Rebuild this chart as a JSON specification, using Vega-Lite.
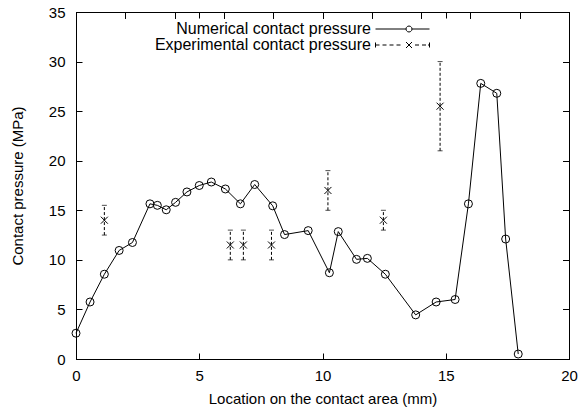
{
  "$schema": "https://vega.github.io/schema/vega-lite/v6.json",
  "width": 493,
  "height": 347,
  "autosize": {"type": "none"},
  "padding": {"left": 76, "top": 12, "right": 10, "bottom": 55},
  "background": "white",
  "config": {
    "aria": false,
    "font": "Liberation Sans",
    "view": {"stroke": "black", "strokeWidth": 1},
    "axis": {
      "grid": false,
      "domainColor": "black",
      "domainWidth": 1,
      "tickColor": "black",
      "tickWidth": 1,
      "tickSize": -6,
      "labelColor": "black",
      "titleColor": "black",
      "labelFont": "Liberation Sans",
      "titleFont": "Liberation Sans",
      "labelFontSize": 15,
      "titleFontSize": 15,
      "titleFontWeight": "normal",
      "labelFlush": false,
      "labelOverlap": false,
      "labelPadding": 17
    },
    "legend": {
      "orient": "none",
      "legendX": 318.5,
      "legendY": 9,
      "labelAlign": "right",
      "labelOffset": -39.5,
      "labelFont": "Liberation Sans",
      "labelFontSize": 16,
      "labelColor": "black",
      "labelLimit": 400,
      "symbolSize": 100,
      "symbolStrokeWidth": 1,
      "symbolStrokeColor": "black",
      "symbolFillColor": "transparent",
      "rowPadding": -2,
      "padding": 0
    }
  },
  "data": {
    "values": [
      {"series": "Numerical contact pressure", "x": 0, "p": 2.6},
      {"series": "Numerical contact pressure", "x": 0.57, "p": 5.75},
      {"series": "Numerical contact pressure", "x": 1.15, "p": 8.55},
      {"series": "Numerical contact pressure", "x": 1.75, "p": 10.95},
      {"series": "Numerical contact pressure", "x": 2.29, "p": 11.75},
      {"series": "Numerical contact pressure", "x": 3.0, "p": 15.65},
      {"series": "Numerical contact pressure", "x": 3.3, "p": 15.5},
      {"series": "Numerical contact pressure", "x": 3.66, "p": 15.05},
      {"series": "Numerical contact pressure", "x": 4.04, "p": 15.8},
      {"series": "Numerical contact pressure", "x": 4.5, "p": 16.85},
      {"series": "Numerical contact pressure", "x": 5.0, "p": 17.5},
      {"series": "Numerical contact pressure", "x": 5.49, "p": 17.85},
      {"series": "Numerical contact pressure", "x": 6.06, "p": 17.15},
      {"series": "Numerical contact pressure", "x": 6.67, "p": 15.65},
      {"series": "Numerical contact pressure", "x": 7.25, "p": 17.6},
      {"series": "Numerical contact pressure", "x": 7.98, "p": 15.45},
      {"series": "Numerical contact pressure", "x": 8.46, "p": 12.55},
      {"series": "Numerical contact pressure", "x": 9.42, "p": 12.95},
      {"series": "Numerical contact pressure", "x": 10.28, "p": 8.7},
      {"series": "Numerical contact pressure", "x": 10.64, "p": 12.85},
      {"series": "Numerical contact pressure", "x": 11.38, "p": 10.05},
      {"series": "Numerical contact pressure", "x": 11.82, "p": 10.15},
      {"series": "Numerical contact pressure", "x": 12.55, "p": 8.55},
      {"series": "Numerical contact pressure", "x": 13.78, "p": 4.45},
      {"series": "Numerical contact pressure", "x": 14.61, "p": 5.75},
      {"series": "Numerical contact pressure", "x": 15.38, "p": 6.0},
      {"series": "Numerical contact pressure", "x": 15.92, "p": 15.65},
      {"series": "Numerical contact pressure", "x": 16.42, "p": 27.8},
      {"series": "Numerical contact pressure", "x": 17.07, "p": 26.8},
      {"series": "Numerical contact pressure", "x": 17.43, "p": 12.1},
      {"series": "Numerical contact pressure", "x": 17.94, "p": 0.5},
      {"series": "Experimental contact pressure", "x": 1.15, "p": 14, "lo": 12.5, "hi": 15.5},
      {"series": "Experimental contact pressure", "x": 6.26, "p": 11.5, "lo": 10, "hi": 13},
      {"series": "Experimental contact pressure", "x": 6.79, "p": 11.5, "lo": 10, "hi": 13},
      {"series": "Experimental contact pressure", "x": 7.93, "p": 11.5, "lo": 10, "hi": 13},
      {"series": "Experimental contact pressure", "x": 10.22, "p": 17, "lo": 15, "hi": 19},
      {"series": "Experimental contact pressure", "x": 12.47, "p": 14, "lo": 13, "hi": 15},
      {"series": "Experimental contact pressure", "x": 14.77, "p": 25.5, "lo": 21, "hi": 30}
    ]
  },
  "layer": [
    {
      "transform": [{"filter": "datum.series === 'Numerical contact pressure'"}],
      "mark": {"type": "line", "color": "black", "strokeWidth": 1},
      "encoding": {
        "x": {"field": "x", "type": "quantitative", "scale": {"domain": [0, 20], "nice": false},
              "axis": {"orient": "bottom", "values": [0, 5, 10, 15, 20], "title": "Location on the contact area (mm)", "titlePadding": 8, "labelPadding": 15}},
        "y": {"field": "p", "type": "quantitative", "scale": {"domain": [0, 35], "nice": false},
              "axis": {"orient": "left", "values": [0, 5, 10, 15, 20, 25, 30, 35], "title": "Contact pressure (MPa)", "titlePadding": 23}}
      }
    },
    {
      "transform": [{"filter": "datum.series === 'Numerical contact pressure'"}],
      "mark": {"type": "point", "shape": "circle", "filled": false, "color": "black", "strokeWidth": 1, "size": 64, "opacity": 1},
      "encoding": {
        "x": {"field": "x", "type": "quantitative"},
        "y": {"field": "p", "type": "quantitative"}
      }
    },
    {
      "transform": [{"filter": "datum.series === 'Experimental contact pressure'"}],
      "mark": {"type": "rule", "color": "black", "strokeWidth": 1, "strokeDash": [3, 2]},
      "encoding": {
        "x": {"field": "x", "type": "quantitative",
              "axis": {"orient": "top", "values": [0, 5, 10, 15, 20], "labels": false, "title": null}},
        "y": {"field": "lo", "type": "quantitative",
              "axis": {"orient": "right", "values": [0, 5, 10, 15, 20, 25, 30, 35], "labels": false, "title": null}},
        "y2": {"field": "hi"}
      }
    },
    {
      "transform": [{"filter": "datum.series === 'Experimental contact pressure'"}],
      "mark": {"type": "tick", "orient": "horizontal", "color": "black", "thickness": 1, "size": 5},
      "encoding": {
        "x": {"field": "x", "type": "quantitative"},
        "y": {"field": "lo", "type": "quantitative"}
      }
    },
    {
      "transform": [{"filter": "datum.series === 'Experimental contact pressure'"}],
      "mark": {"type": "tick", "orient": "horizontal", "color": "black", "thickness": 1, "size": 5},
      "encoding": {
        "x": {"field": "x", "type": "quantitative"},
        "y": {"field": "hi", "type": "quantitative"}
      }
    },
    {
      "transform": [{"filter": "datum.series === 'Experimental contact pressure'"}],
      "mark": {"type": "point", "shape": "M-1,-1L1,1M-1,1L1,-1", "filled": false, "color": "black", "strokeWidth": 1, "size": 49, "opacity": 1},
      "encoding": {
        "x": {"field": "x", "type": "quantitative"},
        "y": {"field": "p", "type": "quantitative"}
      }
    },
    {
      "mark": {"type": "point", "filled": false, "color": "black", "strokeWidth": 1, "size": 100, "opacity": 0},
      "encoding": {
        "x": {"field": "x", "type": "quantitative"},
        "y": {"field": "p", "type": "quantitative"},
        "shape": {
          "field": "series",
          "type": "nominal",
          "scale": {
            "domain": ["Numerical contact pressure", "Experimental contact pressure"],
            "range": [
              "M-5.4,0H0.7M1.9,0H5.4M1.9,0L1.82,0.3L1.6,0.52L1.3,0.6L1.0,0.52L0.78,0.3L0.7,0L0.78,-0.3L1.0,-0.52L1.3,-0.6L1.6,-0.52L1.82,-0.3Z",
              "M-5.4,-0.5V0.5M-5.4,0H-4.6M-4.0,0H-3.2M-2.6,0H-1.8M-1.2,0H-0.4M0.7,-0.6L1.9,0.6M0.7,0.6L1.9,-0.6M2.5,0H3.3M3.9,0H4.7M5.1,0H5.4M5.4,-0.5V0.5"
            ]
          },
          "legend": {"title": null}
        }
      }
    }
  ]
}
